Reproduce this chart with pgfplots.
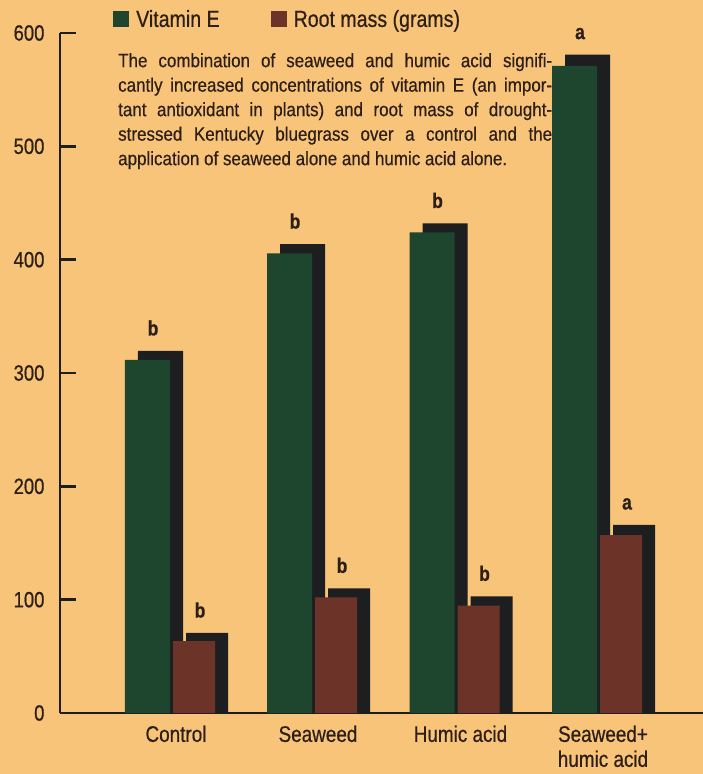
\documentclass[border=0pt]{standalone}
\usepackage{pgfplots}
\usepackage{pgfplotstable}
\pgfplotsset{compat=1.18}
\usepackage{fontspec}
\setmainfont{Liberation Sans}[FakeStretch=0.84, FakeBold=0.55, BoldFeatures={FakeBold=0.4}]
\newfontfamily\parafont{Liberation Sans}[FakeStretch=0.88, FakeBold=0.45]
\definecolor{bg}{RGB}{247,196,122}
\definecolor{vgreen}{RGB}{30,69,46}
\definecolor{rbrown}{RGB}{108,52,40}
\definecolor{shadowc}{RGB}{28,30,32}
\definecolor{ink}{RGB}{45,30,22}

% x positions are in the axis' own units (1 unit = 1pt)
\pgfplotstableread{
x y
147.5 311.5
289.5 405.6
432.0 424.0
574.5 571.0
}\greenbars
\pgfplotstableread{
x y
160.5 319.5
302.5 413.8
445.0 432.0
587.5 581.0
}\greenshadow
\pgfplotstableread{
x y
194.0 63.5
336.0 102.0
478.5 94.7
621.0 157.0
}\brownbars
\pgfplotstableread{
x y
207.0 70.6
349.0 110.0
491.5 103.0
634.0 166.0
}\brownshadow
\pgfplotstableread{
x y lbl
153.0 319.5 b
295.0 413.8 b
437.5 432.0 b
580.0 581.0 a
200.0 70.6 b
342.0 110.0 b
484.5 103.0 b
627.0 166.0 a
}\letters

\begin{document}
\begin{tikzpicture}
\fill[bg] (-60pt,-61pt) rectangle (643pt,713pt);
\useasboundingbox (-60pt,-61pt) rectangle (643pt,713pt);
\begin{axis}[
  at={(0pt,0pt)}, anchor=south west,
  scale only axis, width=643pt, height=680pt,
  xmin=60, xmax=703, ymin=0, ymax=600,
  clip=false,
  axis lines=left,
  axis line style={-, line width=2.2pt, color=shadowc},
  ytick={0,100,...,600},
  tick align=inside,
  major tick length=16pt,
  y tick style={line width=2.4pt, color=shadowc},
  x tick style={draw=none},
  yticklabel style={font=\fontsize{22}{24}\selectfont, text=ink, xshift=-12pt},
  /pgf/number format/assume math mode=true,
  xtick={176,318,460.5,603},
  xticklabels={Control,Seaweed,Humic acid,{Seaweed+\\humic acid}},
  xticklabel style={font=\fontsize{22.5}{25}\selectfont, text=ink, align=center, yshift=-9pt},
  legend style={at={(0.0825,1.037)}, anchor=north west, draw=none, fill=none,
    inner sep=0pt, font=\fontsize{23.3}{24}\selectfont, text=ink,
    nodes={inner xsep=7pt}},
  legend columns=2,
  legend cell align=left,
  /tikz/every even column/.append style={column sep=44pt},
  every node near coord/.style={anchor=south, inner sep=0pt, yshift=15pt,
    font=\bfseries\fontsize{21}{22}\selectfont, text=ink},
]
\addplot[ybar, bar width=45, bar shift=0pt, fill=shadowc, draw=none, forget plot] table {\greenshadow};
\addplot[ybar, bar width=45, bar shift=0pt, fill=vgreen, draw=none,
  legend image code/.code={\fill (0pt,-8pt) rectangle (16pt,8pt);}] table {\greenbars};
\addlegendentry{Vitamin E}
\addplot[ybar, bar width=42, bar shift=0pt, fill=shadowc, draw=none, forget plot] table {\brownshadow};
\addplot[ybar, bar width=42, bar shift=0pt, fill=rbrown, draw=none,
  legend image code/.code={\fill (0pt,-8pt) rectangle (16pt,8pt);}] table {\brownbars};
\addlegendentry{Root mass (grams)}
\addplot[draw=none, mark=none, nodes near coords, point meta=explicit symbolic, forget plot]
  table[meta=lbl] {\letters};
\node[anchor=north west, inner sep=0pt, align=left, text=ink,
  font=\parafont\fontsize{19.3}{24.5}\selectfont] at (axis cs:118,582.4)
  {\makebox[434pt][s]{The combination of seaweed and humic acid signifi-}\\
   \makebox[434pt][s]{cantly increased concentrations of vitamin E (an impor-}\\
   \makebox[434pt][s]{tant antioxidant in plants) and root mass of drought-}\\
   \makebox[434pt][s]{stressed Kentucky bluegrass over a control and the}\\
   application of seaweed alone and humic acid alone.};
\end{axis}
\end{tikzpicture}
\end{document}
